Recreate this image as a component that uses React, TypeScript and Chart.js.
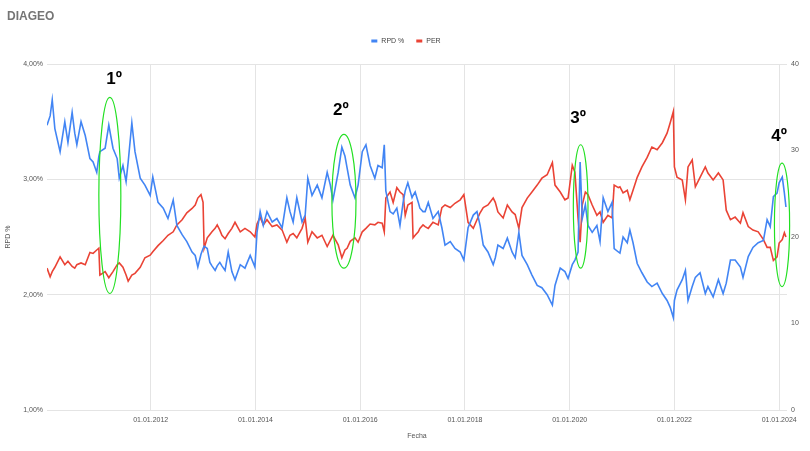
import React, { useEffect, useRef } from 'react';
import { Chart, registerables } from 'chart.js';

Chart.register(...registerables);

// Fechas en años decimales (lecturas aproximadas del gráfico)
const fechas = [
  2010.02, 2010.08, 2010.12, 2010.17, 2010.27, 2010.36, 2010.42, 2010.5, 2010.55, 2010.59,
  2010.67, 2010.75, 2010.84, 2010.9, 2010.97, 2011.01, 2011.03, 2011.13, 2011.2, 2011.28,
  2011.36, 2011.4, 2011.47, 2011.53, 2011.57, 2011.64, 2011.7, 2011.8, 2011.89, 2011.99,
  2012.04, 2012.14, 2012.24, 2012.33, 2012.43, 2012.5, 2012.6, 2012.69, 2012.79, 2012.85,
  2012.9, 2012.96, 2013.0, 2013.02, 2013.08, 2013.13, 2013.17, 2013.23, 2013.27, 2013.32,
  2013.36, 2013.42, 2013.48, 2013.55, 2013.61, 2013.71, 2013.8, 2013.9, 2013.99, 2014.03,
  2014.09, 2014.15, 2014.22, 2014.32, 2014.41, 2014.51, 2014.6, 2014.66, 2014.72, 2014.79,
  2014.89, 2014.95, 2015.0, 2015.08, 2015.18, 2015.27, 2015.37, 2015.43, 2015.48, 2015.58,
  2015.65, 2015.71, 2015.75, 2015.81, 2015.9, 2015.96, 2016.04, 2016.11, 2016.19, 2016.28,
  2016.34, 2016.42, 2016.46, 2016.49, 2016.57, 2016.63, 2016.7, 2016.76, 2016.82, 2016.86,
  2016.91, 2016.99, 2017.01, 2017.05, 2017.11, 2017.14, 2017.2, 2017.24, 2017.3, 2017.39,
  2017.49, 2017.56, 2017.62, 2017.72, 2017.81, 2017.91, 2017.98, 2018.06, 2018.16, 2018.23,
  2018.29, 2018.35, 2018.44, 2018.54, 2018.58, 2018.63, 2018.73, 2018.81, 2018.9, 2018.96,
  2019.03, 2019.09, 2019.19, 2019.28, 2019.38, 2019.47, 2019.57, 2019.67, 2019.72, 2019.82,
  2019.91, 2019.97, 2020.05, 2020.1, 2020.16, 2020.2, 2020.24, 2020.3, 2020.35, 2020.43,
  2020.52, 2020.58, 2020.64, 2020.73, 2020.81, 2020.85, 2020.93, 2020.96, 2021.02, 2021.1,
  2021.15, 2021.21, 2021.29, 2021.38, 2021.48, 2021.57, 2021.67, 2021.77, 2021.86, 2021.92,
  2021.98, 2022.0, 2022.05, 2022.15, 2022.21, 2022.26, 2022.34, 2022.4, 2022.49, 2022.59,
  2022.64, 2022.74, 2022.84, 2022.93, 2022.99, 2023.07, 2023.16, 2023.26, 2023.31, 2023.41,
  2023.5, 2023.6, 2023.7, 2023.77, 2023.83, 2023.89, 2023.96, 2024.0, 2024.06, 2024.1,
  2024.13,
];

// RPD % (eje izquierdo)
const rpd = [
  3.47, 3.55, 3.69, 3.44, 3.24, 3.5, 3.32, 3.58, 3.4, 3.3,
  3.5, 3.38, 3.18, 3.15, 3.06, 3.2, 3.24, 3.27, 3.47, 3.27,
  3.18, 3.01, 3.12, 2.98, 3.15, 3.49, 3.24, 3.01, 2.95, 2.86,
  3.02, 2.8, 2.75, 2.66, 2.82, 2.6, 2.52, 2.46, 2.37, 2.34,
  2.24, 2.35, 2.4, 2.42, 2.4, 2.28, 2.25, 2.21, 2.25, 2.28,
  2.25, 2.21, 2.37, 2.2, 2.13, 2.26, 2.23, 2.34, 2.24, 2.54,
  2.72, 2.6, 2.72, 2.63, 2.66, 2.58, 2.84, 2.72, 2.63, 2.84,
  2.63, 2.69, 3.01, 2.86, 2.95, 2.84, 3.06, 2.95, 2.82, 3.06,
  3.28, 3.2, 3.1, 2.95, 2.84, 2.95, 3.24, 3.3, 3.12, 3.01,
  3.12, 3.1, 3.3, 2.9, 2.72, 2.7, 2.75, 2.6, 2.8, 2.9,
  2.97, 2.84, 2.86, 2.89, 2.8, 2.75, 2.72, 2.72, 2.8, 2.66,
  2.72, 2.58, 2.43, 2.46, 2.4, 2.37, 2.3, 2.58, 2.69, 2.72,
  2.6, 2.43, 2.37, 2.26, 2.32, 2.43, 2.4, 2.49, 2.37, 2.32,
  2.54, 2.34, 2.26, 2.17, 2.08, 2.06, 2.0, 1.91, 2.08, 2.23,
  2.2, 2.14, 2.26, 2.3, 2.37, 3.15, 2.66, 2.78, 2.6, 2.54,
  2.6, 2.46, 2.84, 2.72, 2.8, 2.4, 2.37, 2.36, 2.5, 2.45,
  2.56, 2.45, 2.27, 2.19, 2.11, 2.07, 2.1, 2.01, 1.95, 1.89,
  1.8, 1.95, 2.04, 2.13, 2.21, 1.95, 2.07, 2.15, 2.19, 2.01,
  2.07, 1.98, 2.13, 2.01, 2.1, 2.3, 2.3, 2.24, 2.15, 2.33,
  2.41, 2.45, 2.47, 2.65, 2.59, 2.85, 2.88, 2.97, 3.02, 2.88,
  2.76,
];

// PER (eje derecho)
const per = [
  16.4, 15.4, 16.0, 16.5, 17.7, 16.8, 17.2, 16.6, 16.4, 16.8,
  17.0, 16.8, 18.2, 18.1, 18.5, 18.7, 15.6, 16.0, 15.3, 16.0,
  16.8, 17.0, 16.5, 15.6, 14.9, 15.6, 15.8, 16.5, 17.6, 17.9,
  18.3, 19.0, 19.6, 20.2, 20.6, 21.4, 22.0, 22.8, 23.3, 23.7,
  24.5, 24.9, 24.0, 18.7, 19.9, 20.3, 20.6, 21.0, 21.4, 20.8,
  20.2, 19.8, 20.4, 21.0, 21.7, 20.6, 21.0, 20.6, 20.0, 21.5,
  22.3, 21.4, 22.0, 21.2, 21.4, 20.8, 19.4, 20.2, 20.4, 19.9,
  21.0, 22.2, 19.4, 20.6, 19.9, 20.2, 18.9, 19.6, 20.2, 19.1,
  17.6, 18.5, 18.7, 19.5, 19.9, 19.4, 20.6, 21.0, 21.5, 21.4,
  21.7, 21.6, 20.6, 24.5, 25.2, 24.0, 25.7, 25.2, 24.9, 22.5,
  23.7, 24.0, 19.9, 20.2, 20.6, 21.0, 21.4, 21.2, 21.0, 21.7,
  21.4, 23.4, 23.7, 23.4, 23.9, 24.3, 24.9, 21.7, 21.0, 22.0,
  22.8, 23.4, 23.7, 24.5, 24.0, 22.9, 22.2, 23.7, 22.9, 22.6,
  21.0, 23.4, 24.5, 25.2, 26.0, 26.8, 27.2, 28.6, 26.0, 25.2,
  24.3, 24.5, 28.3, 27.5, 22.2, 19.4, 23.7, 25.2, 24.9, 23.7,
  22.5, 22.9, 21.7, 22.5, 22.2, 26.0, 25.7, 25.8, 25.1, 25.4,
  24.3, 25.4, 26.9, 28.1, 29.2, 30.4, 30.1, 30.9, 32.0, 33.2,
  34.5, 28.1, 26.9, 26.6, 24.3, 28.1, 28.9, 25.8, 26.9, 28.1,
  27.4, 26.6, 27.4, 26.6, 23.1, 22.0, 22.3, 21.6, 22.8, 21.2,
  20.8, 20.6, 19.7, 18.8, 18.8, 17.3, 17.7, 19.3, 19.7, 20.5,
  20.0,
];

const xTicks = [2012, 2014, 2016, 2018, 2020, 2022, 2024];

// Marcas verdes: rango de fechas y rango de RPD %
const marcas = [
  { label: '1º', x0: 2011.01, x1: 2011.43, low: 2.01, high: 3.71, labelX: 2011.3, labelY: 3.87 },
  { label: '2º', x0: 2015.46, x1: 2015.92, low: 2.23, high: 3.39, labelX: 2015.63, labelY: 3.6 },
  { label: '3º', x0: 2020.07, x1: 2020.35, low: 2.23, high: 3.3, labelX: 2020.16, labelY: 3.53 },
  { label: '4º', x0: 2023.91, x1: 2024.2, low: 2.07, high: 3.14, labelX: 2024.0, labelY: 3.37 },
];

const FONT = '"Liberation Sans", Arial, sans-serif';

const cabecera = {
  id: 'cabecera',
  afterDraw(chart: any) {
    const { ctx } = chart;
    ctx.save();
    ctx.fillStyle = '#757575';
    ctx.font = `bold 12px ${FONT}`;
    ctx.textBaseline = 'middle';
    ctx.textAlign = 'left';
    ctx.fillText('DIAGEO', 7, 17);

    // leyenda
    ctx.font = `7px ${FONT}`;
    const items = chart.data.datasets.map((d: any) => ({ text: d.label, color: d.borderColor }));
    const boxW = 6;
    const gap = 4;
    const sep = 12;
    const widths = items.map((it: any) => boxW + gap + ctx.measureText(it.text).width);
    const total = widths.reduce((a: number, b: number) => a + b, 0) + sep * (items.length - 1);
    let x = chart.width / 2 - total / 2 + 1;
    const y = 41;
    items.forEach((it: any, i: number) => {
      ctx.fillStyle = it.color;
      ctx.fillRect(x, y - 1.5, boxW, 3);
      ctx.fillStyle = '#444';
      ctx.fillText(it.text, x + boxW + gap, y);
      x += widths[i] + sep;
    });
    ctx.restore();
  },
};

const elipses = {
  id: 'elipses',
  afterDatasetsDraw(chart: any) {
    const { ctx } = chart;
    const xs = chart.scales.x;
    const ys = chart.scales.y;
    ctx.save();
    marcas.forEach((m) => {
      const a = xs.getPixelForValue(m.x0);
      const b = xs.getPixelForValue(m.x1);
      const t = ys.getPixelForValue(m.high);
      const u = ys.getPixelForValue(m.low);
      ctx.beginPath();
      ctx.ellipse((a + b) / 2, (t + u) / 2, (b - a) / 2, (u - t) / 2, 0, 0, Math.PI * 2);
      ctx.strokeStyle = '#22e022';
      ctx.lineWidth = 1.2;
      ctx.stroke();
      ctx.fillStyle = '#000';
      ctx.font = `bold 17px ${FONT}`;
      ctx.textAlign = 'center';
      ctx.textBaseline = 'middle';
      ctx.fillText(m.label, xs.getPixelForValue(m.labelX), ys.getPixelForValue(m.labelY));
    });
    ctx.restore();
  },
};

const App: React.FC = () => {
  const canvasRef = useRef<HTMLCanvasElement | null>(null);
  const chartRef = useRef<Chart | null>(null);

  useEffect(() => {
    document.body.style.margin = '0';
    if (!canvasRef.current) return;
    if (chartRef.current) chartRef.current.destroy();

    Chart.defaults.font.family = FONT;
    Chart.defaults.color = '#555';

    chartRef.current = new Chart(canvasRef.current, {
      type: 'line',
      data: {
        datasets: [
          {
            label: 'RPD %',
            data: fechas.map((f, i) => ({ x: f, y: rpd[i] })),
            borderColor: '#4285f4',
            backgroundColor: '#4285f4',
            borderWidth: 1.6,
            pointRadius: 0,
            yAxisID: 'y',
          },
          {
            label: 'PER',
            data: fechas.map((f, i) => ({ x: f, y: per[i] })),
            borderColor: '#ea4335',
            backgroundColor: '#ea4335',
            borderWidth: 1.6,
            pointRadius: 0,
            yAxisID: 'y1',
          },
        ],
      },
      options: {
        responsive: false,
        animation: false,
        layout: { padding: { top: 64, left: 0, right: 0, bottom: 0 } },
        plugins: {
          legend: { display: false },
          title: { display: false },
          tooltip: { enabled: false },
        },
        scales: {
          x: {
            type: 'linear',
            min: 2010.02,
            max: 2024.15,
            afterBuildTicks: (scale: any) => {
              scale.ticks = xTicks.map((v) => ({ value: v }));
            },
            afterFit: (scale: any) => {
              scale.height = 41;
            },
            ticks: {
              autoSkip: false,
              maxRotation: 0,
              padding: 6,
              font: { size: 7 },
              callback: (v: any) => `01.01.${v}`,
            },
            grid: { color: '#e4e4e4', drawTicks: false },
            border: { display: false },
            title: {
              display: true,
              text: 'Fecha',
              font: { size: 7 },
              padding: { top: 0, bottom: 11 },
            },
          },
          y: {
            position: 'left',
            min: 1,
            max: 4,
            afterBuildTicks: (scale: any) => {
              scale.ticks = [1, 2, 3, 4].map((v) => ({ value: v }));
            },
            afterFit: (scale: any) => {
              scale.width = 47;
            },
            ticks: {
              padding: 4,
              font: { size: 7 },
              callback: (v: any) => `${Number(v).toFixed(2).replace('.', ',')}%`,
            },
            grid: { color: '#e4e4e4', drawTicks: false },
            border: { display: false },
            title: {
              display: true,
              text: 'RPD %',
              font: { size: 7 },
              padding: { top: 4, bottom: 0 },
            },
          },
          y1: {
            position: 'right',
            min: 0,
            max: 40,
            afterBuildTicks: (scale: any) => {
              scale.ticks = [0, 10, 20, 30, 40].map((v) => ({ value: v }));
            },
            afterFit: (scale: any) => {
              scale.width = 23;
            },
            ticks: { padding: 4, font: { size: 7 } },
            grid: { drawOnChartArea: false, drawTicks: false },
            border: { display: false },
          },
        },
      },
      plugins: [cabecera, elipses],
    });

    return () => {
      if (chartRef.current) {
        chartRef.current.destroy();
        chartRef.current = null;
      }
    };
  }, []);

  return <canvas ref={canvasRef} width={810} height={451} style={{ display: 'block' }}></canvas>;
};

export default App;
